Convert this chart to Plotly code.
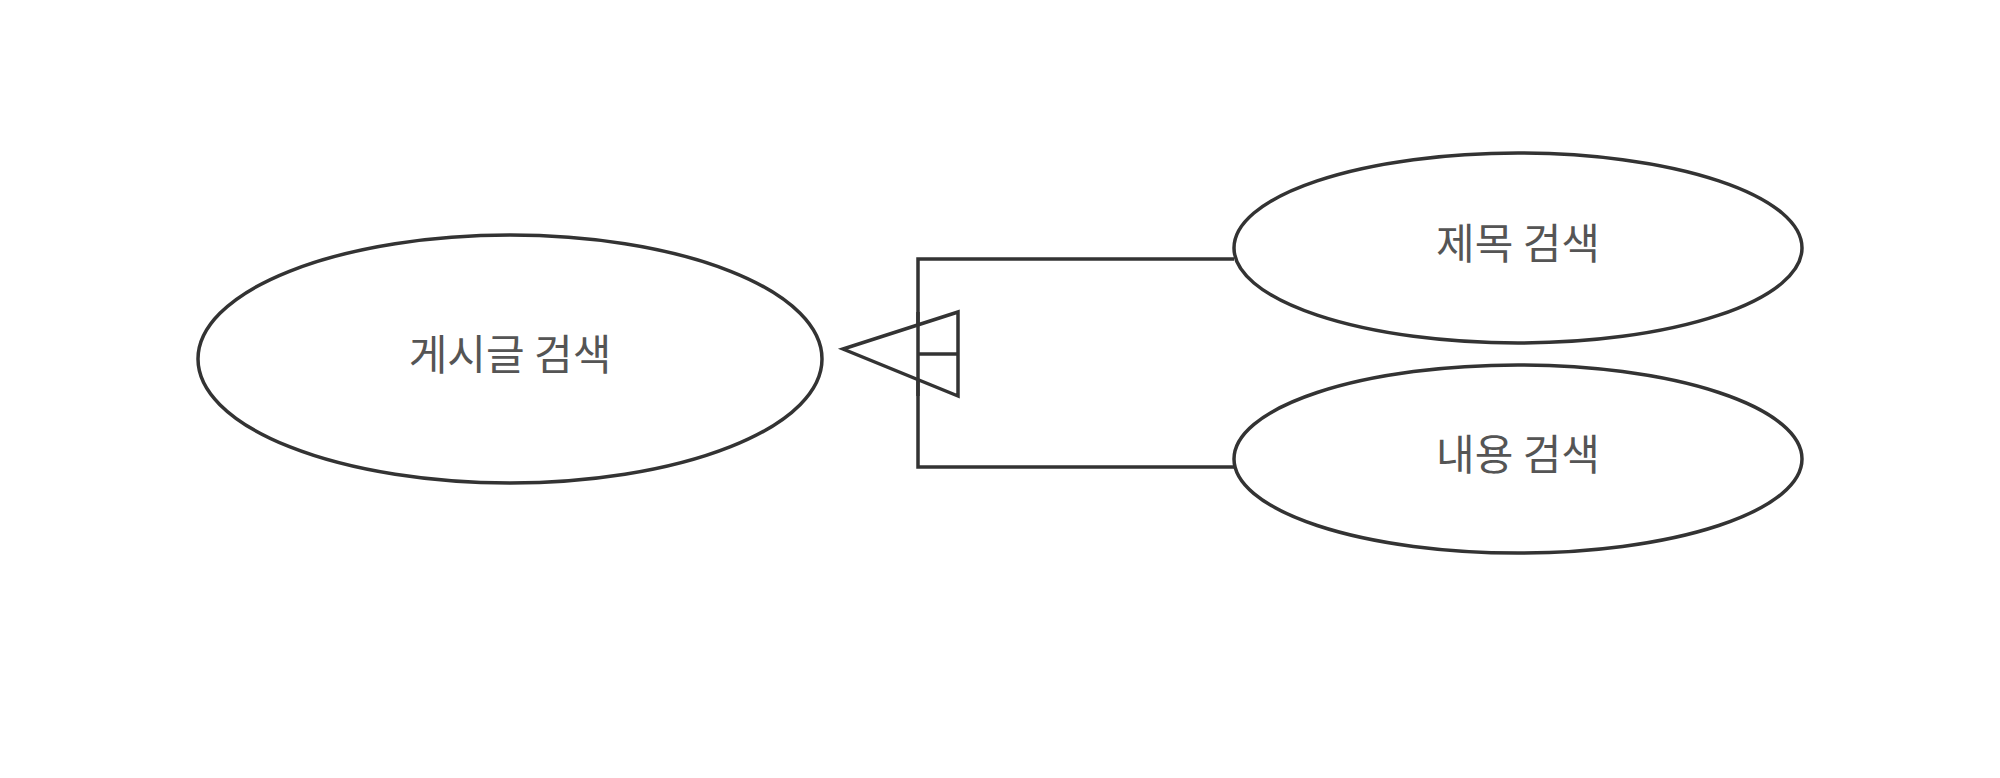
import plotly.graph_objects as go

labels = ["게시글 검색", "제목 검색", "내용 검색"]
cx = [512, 1520, 1520]
cy = [360, 249, 460]
rx = [312, 284, 284]
ry = [124, 95, 94]

fig = go.Figure()
line = dict(color="#333333", width=3.5)
for x, y, a, b in zip(cx, cy, rx, ry):
    fig.add_shape(type="circle", x0=x - a, x1=x + a, y0=y - b, y1=y + b, line=line, fillcolor="white", layer="below")

# generalization connectors
fig.add_shape(type="path", path="M 1236 260 L 920 260 L 920 468 L 1236 468", line=line, xref="x", yref="y")
fig.add_shape(type="path", path="M 960 313 L 845 350 L 960 397 Z", line=line, fillcolor="white")
fig.add_shape(type="line", x0=920, x1=960, y0=355, y1=355, line=line)
fig.add_shape(type="line", x0=920, x1=920, y0=313, y1=397, line=line)

fig.add_trace(go.Scatter(x=cx, y=cy, mode="text", text=labels,
                         textfont=dict(size=42, color="#555555", family="Noto Sans CJK KR"),
                         hoverinfo="skip", showlegend=False))

# shift view so the whole drawing sits like the reference
fig.update_xaxes(range=[10, 2010], visible=False)
fig.update_yaxes(range=[787, 9], visible=False)
fig.update_layout(width=2000, height=778, margin=dict(l=0, r=0, t=0, b=0),
                  plot_bgcolor="white", paper_bgcolor="white")
fig.write_html("out.html")
